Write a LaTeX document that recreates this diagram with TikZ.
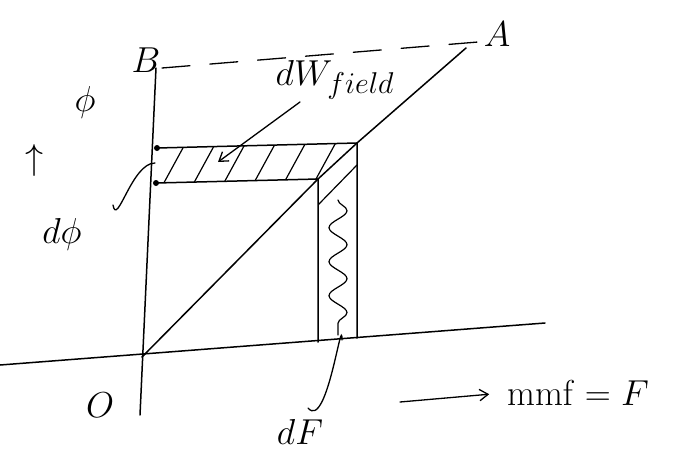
\documentclass[tikz,border=0pt]{standalone}
\usepackage{graphicx}
\usetikzlibrary{arrows.meta,positioning,decorations.pathmorphing}
\newcommand{\handtext}[1]{\scalebox{1.45}{#1}}

\begin{document}
\begin{tikzpicture}[
  x=1pt,y=-1pt,
  line width=1.5pt,
  line cap=round,
  axisline/.style={line width=1.5pt},
  label/.style={font=\Huge},
  leader/.style={line width=1.3pt},
  hatch/.style={line width=1.2pt},
  arrow/.style={-{Straight Barb[length=3mm,width=4mm]},line width=1.3pt}
]
  \useasboundingbox (0,0) rectangle (683,472);

  % axes
  \coordinate (o) at (142,357);
  \coordinate (xstart) at (0,365);
  \coordinate (xend) at (545,323);
  \coordinate (ybot) at (140,415);
  \coordinate (ytop) at (156,68);
  \coordinate (aend) at (466,48);
  \draw[axisline] (xstart) -- (xend);
  \draw[axisline] (ybot) -- (ytop);

  % strips
  \coordinate (p1) at (157,148);
  \coordinate (p2) at (357,143);
  \coordinate (p3) at (156,183);
  \coordinate (p4) at (318,179);
  \coordinate (p5) at (318,342);
  \coordinate (p6) at (357,338);
  \draw (p1) -- (p2) -- (p6);
  \draw (p3) -- (p4) -- (p5);
  \fill (p1) circle (3pt);
  \fill (p3) circle (3pt);

  % characteristic OA
  \draw[axisline] (o) -- (p4) -- (p2) -- (aend);

  \begin{scope}
    \clip (p1) -- (p2) -- (p4) -- (p3) -- cycle;
    \foreach \x in {160,190,...,370}
      \draw[hatch] (\x,190) -- (\x+30,135);
  \end{scope}
  \begin{scope}
    \clip (p4) -- (p2) -- (p6) -- (p5) -- cycle;
    \draw[hatch] (318,205) -- (357,165);
  \end{scope}
  \draw[hatch,decorate,decoration={snake,amplitude=9pt,segment length=34pt}]
    (338,200) -- (338,335);

  % dashed level line
  \draw[dashed,dash pattern=on 28pt off 20pt,line width=1.3pt] (162,68) -- (478,42);

  % labels
  \node[label] (O) at (100,405) {\handtext{$O$}};
  \node[label] (B) at (146,60) {\handtext{$B$}};
  \node[label] (A) at (497,34) {\handtext{$A$}};
  \node[label] (phi) at (85,102) {\handtext{$\phi$}};
  \node[label] (up) at (35,160) {\handtext{$\uparrow$}};
  \node[label] (dphi) at (62,234) {\handtext{$d\phi$}};
  \node[label] (dF) at (300,432) {\handtext{$dF$}};
  \node[label] (mmf) at (578,393) {\handtext{$\mathrm{mmf}=F$}};
  \node[label] (dW) at (335,80) {\handtext{$dW_{field}$}};

  % leaders
  \coordinate (dwtip) at (218,162);
  \coordinate (dwtail) at (300,102);
  \draw[arrow] (dwtail) -- (dwtip);
  \coordinate (dphitip) at (155,163);
  \draw[leader] (113,205) to[out=-80,in=180] (dphitip);
  \coordinate (dftip) at (342,340);
  \coordinate (dftail) at (308,408);
  \draw[leader] (dftail) to[out=-50,in=90] (dftip);
  \coordinate (marr) at (400,402);
  \draw[arrow,shorten >=14pt] (marr) -- (mmf.west);
\end{tikzpicture}
\end{document}
